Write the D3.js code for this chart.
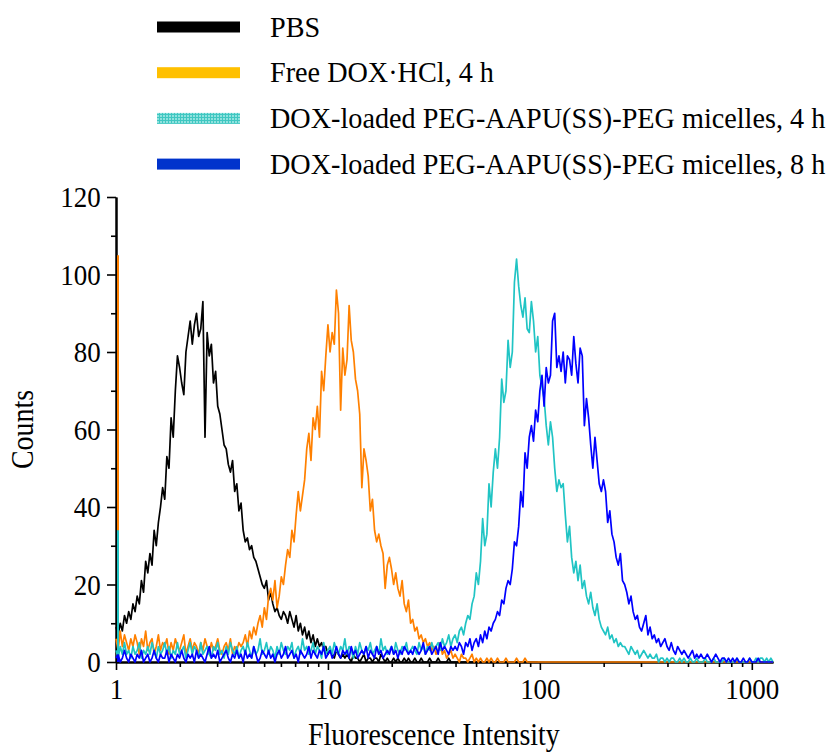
<!DOCTYPE html>
<html>
<head>
<meta charset="utf-8">
<script src="https://cdn.jsdelivr.net/npm/d3@7"></script>
<style>
  body { margin: 0; background: #fff; }
  #figure { width: 835px; height: 752px; }
  text { font-family: "Liberation Serif", "Times New Roman", serif; fill: #000; }
</style>
</head>
<body>
<div id="figure"></div>
<script>
// legend / series
const seriesNames = ["PBS", "Free DOX\u00b7HCl, 4 h",
  "DOX-loaded PEG-AAPU(SS)-PEG micelles, 4 h",
  "DOX-loaded PEG-AAPU(SS)-PEG micelles, 8 h"];
const lineColors = ["#000000", "#ff8000", "#20c4c4", "#0000ff"];
const swatchColors = ["#000000", "#ffc000", "url(#cyanTex)", "#0033cc"];

// histogram channels: first channel at intensity 1, 0.01 decade per channel
const channelStart = 1;
const decadesPerChannel = 0.01;
const lastChannel = 310;

// events piled in the very first channel (vertical spike on the y axis)
const edgeCounts = [64, 105, 34, 2];

const pbs = [
  9, 7, 10, 8, 12, 10, 13, 11, 15, 13,
  17, 15, 21, 18, 26, 23, 28, 25, 34, 30,
  36, 40, 45, 42, 53, 50, 63, 58, 70, 79,
  76, 72, 69, 80, 84, 88, 82, 87, 90, 84,
  86, 93, 58, 85, 79, 82, 72, 75, 66, 64,
  60, 56, 55, 51, 49, 52, 44, 46, 39, 41,
  34, 31, 32, 29, 30, 27, 26, 24, 22, 20,
  19, 21, 16, 18, 15, 13, 14, 12, 11, 13,
  12, 10, 13, 11, 9, 12, 8, 10, 7, 9,
  6, 8, 5, 7, 4, 6, 4, 5, 3, 4,
  2, 3, 2, 1, 3, 2, 1, 2, 1, 2,
  1, 0, 2, 1, 1, 0, 1, 2, 0, 1,
  1, 0, 1, 1, 0, 2, 1, 0, 1, 0,
  0, 1, 0, 1, 0, 0, 1, 0, 1, 0,
  0, 1, 0, 0, 1, 0, 0, 0, 1, 0,
  0, 0, 1, 0, 0, 0, 0, 1, 0, 0,
  0, 0, 0, 0, 0, 0, 0, 0, 0, 0,
  0, 0, 0, 0, 0, 0, 0, 0, 0, 0,
  0, 0, 0, 0, 0, 0, 0, 0, 0, 0,
  0, 0, 0, 0, 0, 0, 0, 0, 0, 0
];

const freeDox4h = [
  6, 3, 8, 4, 7, 5, 3, 6, 4, 7,
  5, 2, 6, 4, 8, 3, 5, 6, 2, 4,
  7, 3, 5, 4, 6, 2, 5, 3, 6, 4,
  3, 5, 7, 2, 4, 6, 3, 5, 4, 2,
  5, 3, 6, 4, 2, 5, 3, 4, 6, 3,
  2, 4, 5, 3, 6, 2, 4, 3, 5, 4,
  5, 7, 4, 8, 6, 9, 7, 10, 12, 9,
  14, 11, 17, 19, 16, 21, 14, 17, 22, 20,
  25, 29, 27, 34, 31, 38, 44, 39, 43, 47,
  55, 59, 52, 63, 60, 66, 58, 75, 70, 79,
  87, 80, 85, 82, 96, 90, 65, 81, 74, 78,
  92, 83, 80, 73, 70, 64, 45, 55, 52, 48,
  39, 42, 34, 31, 33, 30, 28, 19, 25, 27,
  24, 20, 23, 19, 17, 21, 15, 13, 16, 10,
  11, 8, 9, 6, 7, 5, 6, 4, 5, 3,
  4, 2, 3, 5, 2, 3, 1, 2, 3, 1,
  2, 1, 0, 2, 1, 1, 0, 1, 2, 0,
  1, 0, 1, 0, 0, 1, 0, 1, 0, 0,
  1, 0, 0, 0, 1, 0, 0, 0, 0, 1,
  0, 0, 0, 1, 0, 0, 0, 0, 0, 0,
  0, 0, 0, 0, 0, 0, 0, 0, 0, 0,
  0, 0, 0, 0, 0, 0, 0, 0, 0, 0,
  0, 0, 0, 0, 0, 0, 0, 0, 0, 0,
  0, 0, 0, 0, 0, 0, 0, 0, 0, 0,
  0, 0, 0, 0, 0, 0, 0, 0, 0, 0,
  0, 0, 0, 0, 0, 0, 0, 0, 0, 0,
  0, 0, 0, 0, 0, 0, 0, 0, 0, 0,
  0, 0, 0, 0, 0, 0, 0, 0, 0, 0,
  0, 0, 0, 0, 0, 0, 0, 0, 0, 0,
  0, 0, 0, 0, 0, 0, 0, 0, 0, 0,
  0, 0, 0, 0, 0, 0, 0, 0, 0, 0,
  0
];

const micelles4h = [
  3, 1, 4, 2, 5, 2, 3, 1, 4, 2,
  3, 5, 1, 3, 2, 4, 2, 5, 3, 1,
  4, 2, 3, 5, 2, 4, 1, 3, 2, 5,
  2, 3, 4, 1, 3, 5, 2, 4, 3, 1,
  5, 2, 3, 4, 2, 1, 4, 3, 5, 2,
  3, 1, 4, 2, 5, 3, 2, 4, 1, 3,
  4, 2, 5, 3, 1, 4, 2, 3, 6, 2,
  3, 5, 2, 4, 3, 1, 4, 2, 5, 3,
  2, 4, 3, 5, 1, 3, 4, 2, 6, 3,
  4, 2, 3, 5, 2, 4, 3, 1, 5, 2,
  3, 4, 2, 5, 3, 2, 4, 3, 6, 2,
  4, 3, 1, 4, 2, 5, 3, 2, 4, 3,
  5, 2, 3, 4, 2, 6, 3, 4, 2, 3,
  4, 2, 5, 3, 2, 4, 3, 5, 2, 3,
  4, 3, 2, 5, 3, 4, 2, 4, 3, 5,
  3, 4, 5, 3, 6, 4, 5, 7, 4, 6,
  7, 5, 8, 9, 7, 10, 12, 11, 15, 17,
  23, 20, 26, 37, 30, 33, 46, 40, 49, 55,
  50, 58, 73, 67, 70, 83, 76, 80, 98, 104,
  97, 92, 89, 94, 86, 85, 93, 88, 80, 84,
  74, 71, 68, 61, 56, 62, 58, 50, 44, 47,
  45, 46, 38, 31, 35, 27, 23, 26, 21, 25,
  19, 21, 17, 15, 18, 14, 12, 15, 11, 9,
  8, 7, 9, 6, 7, 5, 6, 4, 5, 4,
  4, 3, 2, 4, 3, 2, 3, 1, 2, 3,
  2, 1, 2, 1, 1, 2, 0, 1, 1, 0,
  1, 0, 1, 1, 0, 0, 1, 0, 1, 0,
  0, 1, 0, 0, 1, 0, 0, 0, 1, 0,
  0, 0, 1, 0, 0, 0, 0, 1, 0, 0,
  0, 0, 0, 1, 0, 0, 0, 0, 0, 1,
  0, 0, 1, 0, 1, 1, 0, 1, 0, 1,
  0
];

const micelles8h = [
  1, 2, 0, 1, 3, 1, 0, 2, 1, 0,
  2, 1, 3, 0, 1, 2, 0, 1, 3, 1,
  0, 2, 1, 1, 3, 0, 2, 1, 0, 2,
  1, 3, 1, 0, 2, 1, 2, 0, 3, 1,
  2, 1, 0, 2, 4, 1, 2, 1, 3, 0,
  1, 2, 3, 1, 0, 2, 1, 3, 1, 2,
  0, 3, 1, 2, 1, 4, 2, 0, 1, 3,
  2, 1, 3, 1, 2, 0, 2, 3, 1, 2,
  4, 1, 2, 3, 1, 2, 0, 3, 2, 1,
  2, 4, 1, 3, 2, 1, 3, 2, 4, 1,
  2, 3, 1, 2, 4, 2, 1, 3, 2, 3,
  1, 4, 2, 3, 1, 2, 3, 2, 4, 1,
  3, 2, 1, 4, 2, 3, 1, 2, 3, 2,
  4, 2, 3, 1, 3, 2, 4, 3, 2, 3,
  2, 4, 3, 2, 3, 5, 2, 3, 4, 2,
  3, 4, 2, 5, 3, 4, 3, 2, 4, 3,
  4, 3, 5, 4, 2, 5, 4, 6, 3, 5,
  6, 4, 7, 5, 8, 6, 9, 8, 10, 11,
  13, 12, 16, 15, 19, 21, 20, 24, 31, 30,
  35, 44, 40, 54, 50, 58, 61, 57, 65, 62,
  70, 74, 66, 76, 72, 74, 88, 90, 76, 79,
  75, 80, 72, 79, 78, 74, 84, 77, 72, 81,
  79, 61, 68, 63, 56, 50, 58, 52, 46, 44,
  47, 44, 36, 39, 33, 31, 27, 25, 28, 21,
  20, 18, 15, 17, 13, 11, 12, 9, 8, 10,
  12, 7, 9, 6, 7, 5, 6, 4, 5, 6,
  4, 3, 5, 3, 2, 4, 3, 2, 3, 2,
  1, 2, 3, 1, 2, 1, 2, 1, 1, 2,
  1, 0, 1, 2, 1, 0, 1, 1, 0, 1,
  0, 1, 0, 1, 0, 0, 1, 0, 0, 1,
  0, 0, 0, 1, 0, 0, 0, 0, 0, 0,
  0
];

const seriesData = [pbs, freeDox4h, micelles4h, micelles8h];

const xMajorTicks = [1, 10, 100, 1000];
const xMinorTicks = [2, 3, 4, 5, 6, 7, 8, 9, 20, 30, 40, 50, 60, 70, 80, 90,
                     200, 300, 400, 500, 600, 700, 800, 900];
const yMajorTicks = [0, 20, 40, 60, 80, 100, 120];
const yMinorTicks = [10, 30, 50, 70, 90, 110];

const xTitle = "Fluorescence Intensity";
const yTitle = "Counts";

document.addEventListener("DOMContentLoaded", () => {
  const W = 835, H = 752;
  const margin = { top: 197, left: 116, right: 62, bottom: 90 };

  const channelValue = i => channelStart * Math.pow(10, i * decadesPerChannel);

  const x = d3.scaleLog()
              .domain([channelStart, channelValue(lastChannel)])
              .range([margin.left, W - margin.right]);
  const y = d3.scaleLinear()
              .domain([0, 120])
              .range([H - margin.bottom, margin.top]);

  const svg = d3.select("#figure").append("svg")
                .attr("width", W)
                .attr("height", H);

  // texture for the cyan legend swatch
  const pat = svg.append("defs").append("pattern")
     .attr("id", "cyanTex")
     .attr("patternUnits", "userSpaceOnUse")
     .attr("width", 3).attr("height", 3);
  pat.append("rect").attr("width", 3).attr("height", 3).attr("fill", "#8fe2de");
  pat.append("rect").attr("width", 3).attr("height", 1).attr("fill", "#3fc7c1");
  pat.append("rect").attr("width", 1).attr("height", 3).attr("fill", "#3fc7c1");

  // x axis
  const xAxisG = svg.append("g")
     .attr("transform", "translate(0," + y(0) + ")");
  xAxisG.append("g")
     .call(d3.axisBottom(x).tickValues(xMinorTicks).tickSize(5).tickSizeOuter(0).tickFormat(""));
  xAxisG.append("g")
     .attr("class", "major")
     .call(d3.axisBottom(x).tickValues(xMajorTicks).tickSize(8).tickSizeOuter(0)
             .tickPadding(8).tickFormat(d3.format("d")));

  // y axis
  const yAxisG = svg.append("g")
     .attr("transform", "translate(" + margin.left + ",0)");
  yAxisG.append("g")
     .call(d3.axisLeft(y).tickValues(yMinorTicks).tickSize(5).tickSizeOuter(0).tickFormat(""));
  yAxisG.append("g")
     .attr("class", "major")
     .call(d3.axisLeft(y).tickValues(yMajorTicks).tickSize(9).tickSizeOuter(0).tickPadding(8));

  svg.selectAll(".domain").attr("stroke", "#000").attr("stroke-width", 2);
  svg.selectAll(".tick line").attr("stroke", "#000").attr("stroke-width", 1.6);
  svg.selectAll(".major .tick text")
     .attr("transform", "scale(0.9,1)")
     .style("font-family", "'Liberation Serif', 'Times New Roman', serif")
     .style("font-size", "30px");

  // lines
  const line = d3.line()
                 .x((d, i) => x(channelValue(i)))
                 .y(d => y(d));

  seriesData.forEach((s, k) => {
    svg.append("path")
       .datum(s)
       .attr("fill", "none")
       .attr("stroke", lineColors[k])
       .attr("stroke-width", 1.7)
       .attr("stroke-linejoin", "round")
       .attr("d", line);
  });

  // first-channel spikes
  edgeCounts.forEach((c, k) => {
    const ex = x(channelStart) + 2;
    svg.append("path")
       .attr("fill", "none")
       .attr("stroke", lineColors[k])
       .attr("stroke-width", 2)
       .attr("d", d3.line()([[ex, y(0)], [ex, y(c)], [ex, y(seriesData[k][0])]]));
  });

  // axis titles
  svg.append("text")
     .attr("transform", "translate(" + (x(1) + x(1000)) / 2 + ",745) scale(0.9,1)")
     .attr("text-anchor", "middle")
     .style("font-size", "31px")
     .text(xTitle);

  svg.append("text")
     .attr("transform", "translate(33," + y(60) + ") rotate(-90) scale(0.9,1)")
     .attr("text-anchor", "middle")
     .style("font-size", "31px")
     .text(yTitle);

  // legend
  const legend = svg.append("g");
  seriesNames.forEach((name, k) => {
    const cy = 27 + k * 45.7;
    legend.append("rect")
          .attr("x", 157).attr("y", cy - 5.5)
          .attr("width", 83).attr("height", 11)
          .attr("fill", swatchColors[k]);
    legend.append("text")
          .attr("transform", "translate(270," + (cy + 9.5) + ") scale(0.94,1)")
          .style("font-size", "30px")
          .text(name);
  });
});
</script>
</body>
</html>
